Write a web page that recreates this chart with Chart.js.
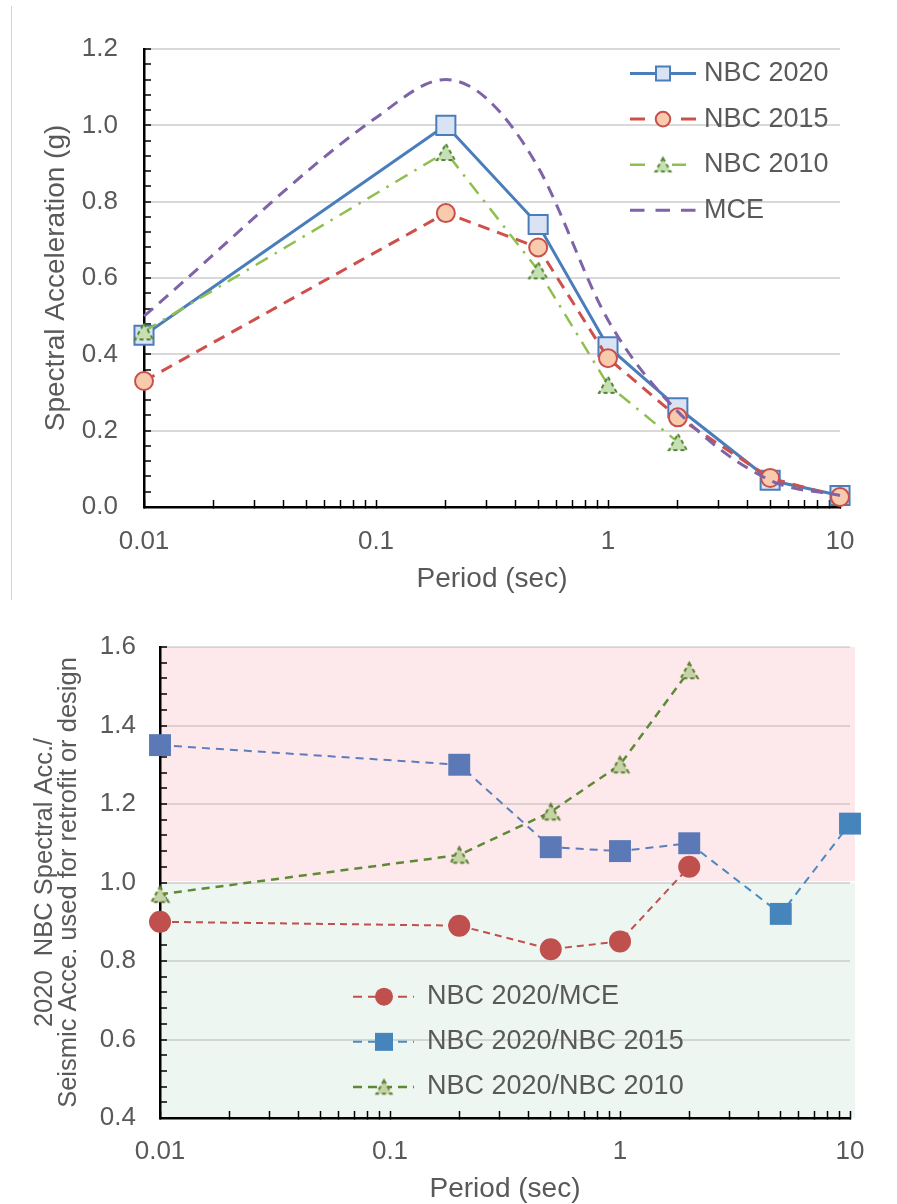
<!DOCTYPE html>
<html>
<head>
<meta charset="utf-8">
<title>NBC spectral acceleration comparison</title>
<script src="https://cdn.jsdelivr.net/npm/chart.js@4"></script>
<style>
  html, body { margin: 0; padding: 0; background: #fff; }
  #wrap { position: relative; width: 897px; height: 1204px; overflow: hidden; }
  #frame { position: absolute; left: 11px; top: 6px; width: 0; height: 594px; border-left: 1.5px solid #d4d4d4; }
  #spectra { position: absolute; left: 0; top: 0; }
  #ratios { position: absolute; left: 0; top: 600px; }
</style>
</head>
<body>
<div id="wrap">
  <div id="frame"></div>
  <canvas id="spectra" width="897" height="600"></canvas>
  <canvas id="ratios" width="897" height="604"></canvas>
</div>
<script>
// ---- data -------------------------------------------------------------
const periods = [0.01, 0.2, 0.5, 1, 2, 5, 10];          // sec
const nbc2020 = [0.45, 1.00, 0.74, 0.42, 0.26, 0.07, 0.03];
const nbc2015 = [0.33, 0.77, 0.68, 0.39, 0.235, 0.076, 0.026];
const nbc2010 = [0.46, 0.93, 0.62, 0.32, 0.17];          // up to 2 s
const mcePeriods = [0.01, 0.1, 0.2, 0.3, 0.5, 1, 2, 5, 10];
const mce = [0.50, 1.02, 1.12, 1.07, 0.89, 0.49, 0.25, 0.07, 0.03];

const ratioMce = [0.90, 0.89, 0.83, 0.85, 1.04];          // up to 2 s
const ratio2015 = [1.35, 1.30, 1.09, 1.08, 1.10, 0.92, 1.15];
const ratio2010 = [0.97, 1.07, 1.18, 1.30, 1.54];         // up to 2 s

// ---- tick labels --------------------------------------------------------
const periodDecades = [0.01, 0.1, 1, 10];
const periodLabels = ['0.01', '0.1', '1', '10'];
const accelMajor = [0, 0.2, 0.4, 0.6, 0.8, 1.0, 1.2];
const accelLabels = ['0.0', '0.2', '0.4', '0.6', '0.8', '1.0', '1.2'];
const ratioMajor = [0.4, 0.6, 0.8, 1.0, 1.2, 1.4, 1.6];
const ratioLabels = ['0.4', '0.6', '0.8', '1.0', '1.2', '1.4', '1.6'];
const ratioThreshold = 1.0;

// ---- helpers ------------------------------------------------------------
const FONT = '"Liberation Sans", Arial, sans-serif';
const TEXT = '#595959';

const points = (xs, ys) => ys.map((y, i) => ({ x: xs[i], y }));

// minor ticks: equal divisions between the labelled values
function linearTicks(majors, divisions) {
  const out = [];
  for (let i = 0; i < majors.length - 1; i++) {
    const a = majors[i], b = majors[i + 1];
    for (let j = 0; j < divisions; j++) out.push(+(a + (b - a) * j / divisions).toFixed(6));
  }
  out.push(majors[majors.length - 1]);
  return out.map(value => ({ value }));
}
// minor ticks: 1..9 within each decade
function logTicks(decades) {
  const out = [];
  for (let i = 0; i < decades.length - 1; i++) {
    for (let m = 1; m <= 9; m++) out.push(+(decades[i] * m).toPrecision(6));
  }
  out.push(decades[decades.length - 1]);
  return out.map(value => ({ value }));
}
const findMajor = (majors, v) => majors.findIndex(m => Math.abs(m - v) <= 1e-9 * Math.max(1, Math.abs(m)));

function triangleMarker(w, fill, stroke, lw, dash) {
  const c = document.createElement('canvas');
  const s = Math.ceil(w + lw * 2 + 2);
  c.width = s; c.height = s;
  const g = c.getContext('2d');
  const cx = s / 2, cy = s / 2, h = w * 0.9;
  g.beginPath();
  g.moveTo(cx, cy - h / 2);
  g.lineTo(cx + w / 2, cy + h / 2);
  g.lineTo(cx - w / 2, cy + h / 2);
  g.closePath();
  g.fillStyle = fill;
  g.fill();
  g.setLineDash(dash);
  g.strokeStyle = stroke;
  g.lineWidth = lw;
  g.stroke();
  return c;
}

function drawMarker(ctx, m, x, y) {
  if (m.image) { ctx.drawImage(m.image, x - m.image.width / 2, y - m.image.height / 2); return; }
  ctx.beginPath();
  if (m.shape === 'rect') ctx.rect(x - m.half, y - m.half, 2 * m.half, 2 * m.half);
  else ctx.arc(x, y, m.half, 0, Math.PI * 2);
  ctx.fillStyle = m.fill;
  ctx.fill();
  if (m.lw) { ctx.setLineDash([]); ctx.lineWidth = m.lw; ctx.strokeStyle = m.stroke; ctx.stroke(); }
}

// key drawn inside the plot: dashed/solid line sample, marker, label
function seriesKey(cfg) {
  return {
    id: 'seriesKey',
    afterDraw(chart) {
      const { ctx } = chart;
      ctx.save();
      cfg.rows.forEach((row, i) => {
        const ds = chart.data.datasets[row.dataset];
        const y = cfg.y0 + i * cfg.dy;
        ctx.beginPath();
        ctx.setLineDash(row.dash || ds.borderDash || []);
        ctx.strokeStyle = row.lineColor || ds.borderColor;
        ctx.lineWidth = ds.borderWidth;
        ctx.moveTo(cfg.x1, y);
        ctx.lineTo(row.x2 || cfg.x2, y);
        ctx.stroke();
        ctx.setLineDash([]);
        if (row.marker) drawMarker(ctx, row.marker, cfg.mx, y);
        ctx.fillStyle = cfg.color;
        ctx.font = cfg.font;
        ctx.textAlign = 'left';
        ctx.textBaseline = 'middle';
        ctx.fillText(ds.label, cfg.tx, y);
      });
      ctx.restore();
    }
  };
}

// shaded zones above / below a ratio of 1
const ratioZones = {
  id: 'ratioZones',
  beforeDraw(chart) {
    const { ctx, chartArea: a, scales: { y } } = chart;
    const t = y.getPixelForValue(ratioThreshold);
    ctx.save();
    ctx.fillStyle = '#fde9ec';
    ctx.fillRect(a.left, a.top, a.right - a.left + 5, t - a.top - 1.5);
    ctx.fillStyle = '#edf6f1';
    ctx.fillRect(a.left, t, a.right - a.left + 5, a.bottom - t);
    ctx.restore();
  }
};

function periodAxis(cfg) {
  return {
    type: 'logarithmic',
    min: periodDecades[0],
    max: periodDecades[periodDecades.length - 1],
    afterBuildTicks: s => { s.ticks = logTicks(periodDecades); },
    afterFit: s => { s.height = cfg.height; },
    border: { display: true, color: '#000', width: 2.5 },
    grid: { drawOnChartArea: false, drawTicks: true, tickLength: -7, tickColor: '#000', tickWidth: 1.5 },
    ticks: {
      autoSkip: false, maxRotation: 0, padding: cfg.tickPad, color: TEXT,
      font: { family: FONT, size: 26 },
      callback: v => { const i = findMajor(periodDecades, v); return i < 0 ? '' : periodLabels[i]; }
    },
    title: {
      display: true, text: 'Period (sec)', color: TEXT,
      font: { family: FONT, size: 28, lineHeight: 1 },
      padding: { top: 0, bottom: cfg.titlePad }
    }
  };
}

function valueAxis(cfg) {
  return {
    type: 'linear',
    min: cfg.majors[0],
    max: cfg.majors[cfg.majors.length - 1],
    afterBuildTicks: s => { s.ticks = linearTicks(cfg.majors, 5); },
    afterFit: s => { s.width = cfg.width; },
    border: { display: true, color: '#000', width: 2.5 },
    grid: {
      drawTicks: true, tickLength: -7, tickColor: '#000', tickWidth: 1.5, lineWidth: 2,
      color: c => (c.tick && findMajor(cfg.majors, c.tick.value) >= 0) ? cfg.gridColor : 'rgba(0,0,0,0)'
    },
    ticks: {
      autoSkip: false, padding: cfg.tickPad, color: TEXT,
      font: { family: FONT, size: 26 },
      callback: v => { const i = findMajor(cfg.majors, v); return i < 0 ? '' : cfg.labels[i]; }
    },
    title: {
      display: true, text: cfg.title, color: TEXT,
      font: { family: FONT, size: cfg.titleSize, lineHeight: cfg.titleLH },
      padding: { top: cfg.titlePad, bottom: 0 }
    }
  };
}

const common = {
  responsive: false,
  animation: false,
  events: [],
  plugins: { legend: { display: false }, tooltip: { enabled: false } }
};

// ---- chart 1: spectra ---------------------------------------------------
const tri1 = triangleMarker(18, '#c6e0b4', '#548235', 2, [4, 3]);
const tri1Key = triangleMarker(15, '#c6e0b4', '#548235', 2, [4, 3]);

new Chart(document.getElementById('spectra'), {
  type: 'line',
  data: {
    datasets: [
      {
        label: 'NBC 2020', data: points(periods, nbc2020), order: 4, clip: false,
        borderColor: '#4a7ebb', borderWidth: 3, tension: 0,
        pointStyle: 'rect', pointRadius: 13.5, pointBackgroundColor: '#dae3f3',
        pointBorderColor: '#4a7ebb', pointBorderWidth: 2
      },
      {
        label: 'NBC 2015', data: points(periods, nbc2015), order: 3, clip: false,
        borderColor: '#cf4f4b', borderWidth: 3, borderDash: [12, 8], tension: 0,
        pointStyle: 'circle', pointRadius: 9, pointBackgroundColor: '#f8cbad',
        pointBorderColor: '#c9504c', pointBorderWidth: 2
      },
      {
        label: 'NBC 2010', data: points(periods, nbc2010), order: 2, clip: false,
        borderColor: '#8fc04f', borderWidth: 2.5, borderDash: [14, 8, 2.5, 8], tension: 0,
        pointStyle: tri1, pointRadius: 9
      },
      {
        label: 'MCE', data: points(mcePeriods, mce), order: 1, clip: false,
        borderColor: '#7f63a8', borderWidth: 3, borderDash: [12, 8],
        cubicInterpolationMode: 'monotone', pointRadius: 0
      }
    ]
  },
  options: {
    ...common,
    layout: { padding: { left: 0, right: 57, top: 49, bottom: 0 } },
    scales: {
      x: periodAxis({ height: 93, tickPad: 26, titlePad: 7 }),
      y: valueAxis({
        majors: accelMajor, labels: accelLabels, width: 144, tickPad: 33,
        gridColor: '#d9d9d9', title: 'Spectral Acceleration (g)',
        titleSize: 28, titleLH: 1, titlePad: 42
      })
    }
  },
  plugins: [seriesKey({
    x1: 630, x2: 696, mx: 663, tx: 704, y0: 73.5, dy: 45.6,
    color: TEXT, font: '27px ' + FONT,
    rows: [
      { dataset: 0, marker: { shape: 'rect', half: 7, fill: '#dae3f3', stroke: '#4a7ebb', lw: 2 } },
      { dataset: 1, dash: [15, 36], marker: { shape: 'circle', half: 7.3, fill: '#f8cbad', stroke: '#c9504c', lw: 2 } },
      { dataset: 2, dash: [15, 27], x2: 686, marker: { image: tri1Key } },
      { dataset: 3, dash: [14.5, 11] }
    ]
  })]
});

// ---- chart 2: ratios ----------------------------------------------------
const tri2 = triangleMarker(17, '#c5d3a6', '#5a7d32', 2, [4, 3]);
const tri2Key = triangleMarker(15, '#c5d3a6', '#5a7d32', 2, [4, 3]);
const blueA = '#5a79b6', blueB = '#4684bc';

new Chart(document.getElementById('ratios'), {
  type: 'line',
  data: {
    datasets: [
      {
        label: 'NBC 2020/MCE', data: points(periods, ratioMce), order: 3, clip: false,
        borderColor: '#c0504d', borderWidth: 2, borderDash: [7, 5], tension: 0,
        pointStyle: 'circle', pointRadius: 11, pointBackgroundColor: '#c0504d', pointBorderWidth: 0
      },
      {
        label: 'NBC 2020/NBC 2015', data: points(periods, ratio2015), order: 2, clip: false,
        borderColor: '#5b7dbd', borderWidth: 2, borderDash: [8, 6], tension: 0,
        segment: { borderColor: c => c.p0DataIndex >= 4 ? '#4a8ac4' : '#5b7dbd' },
        pointStyle: 'rect', pointRadius: 15.5, pointBorderWidth: 0,
        pointBackgroundColor: c => c.dataIndex >= 5 ? blueB : blueA
      },
      {
        label: 'NBC 2020/NBC 2010', data: points(periods, ratio2010), order: 1, clip: false,
        borderColor: '#5f8a35', borderWidth: 2.5, borderDash: [8, 6], tension: 0,
        pointStyle: tri2, pointRadius: 9
      }
    ]
  },
  options: {
    ...common,
    layout: { padding: { left: 0, right: 47, top: 47, bottom: 0 } },
    scales: {
      x: periodAxis({ height: 86, tickPad: 25, titlePad: 1 }),
      y: valueAxis({
        majors: ratioMajor, labels: ratioLabels, width: 160, tickPad: 31,
        gridColor: 'rgba(110,110,110,0.22)',
        title: ['2020  NBC Spectral Acc./', 'Seismic Acce. used for retrofit or design'],
        titleSize: 25.5, titleLH: 0.94, titlePad: 33
      })
    }
  },
  plugins: [ratioZones, seriesKey({
    x1: 353, x2: 414, mx: 384, tx: 427, y0: 396.7, dy: 45.15,
    color: TEXT, font: '27px ' + FONT,
    rows: [
      { dataset: 0, dash: [9, 6], marker: { shape: 'circle', half: 9, fill: '#c0504d' } },
      { dataset: 1, dash: [9, 6], lineColor: '#4a8ac4', marker: { shape: 'rect', half: 9, fill: '#4684bc' } },
      { dataset: 2, dash: [9, 6], marker: { image: tri2Key } }
    ]
  })]
});
</script>
</body>
</html>
